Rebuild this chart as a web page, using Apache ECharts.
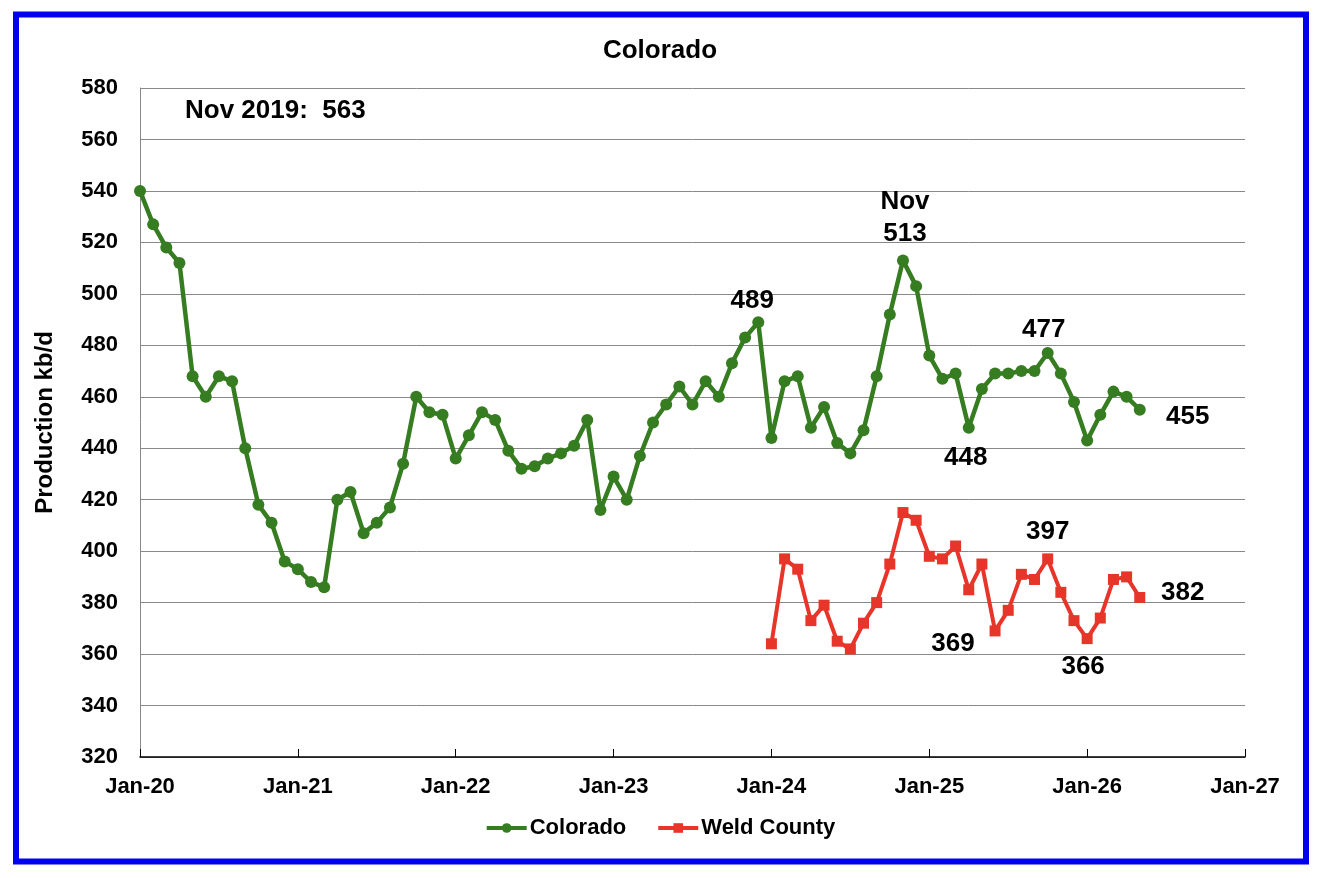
<!DOCTYPE html>
<html>
<head>
<meta charset="utf-8">
<script src="https://cdn.jsdelivr.net/npm/echarts@6/dist/echarts.min.js"></script>
<style>
  html, body { margin: 0; padding: 0; background: #fff; }
  #main { width: 1320px; height: 878px; }
</style>
</head>
<body>
<div id="main"></div>
<script>
var myChart = echarts.init(document.getElementById('main'));

// monthly production, kb/d
var coloradoStart = 2020; // Jan-20
var coloradoValues = [
  540, 527, 518, 512, 468, 460, 468, 466, 440, 418, 411, 396,   // 2020
  393, 388, 386, 420, 423, 407, 411, 417, 434, 460, 454, 453,   // 2021
  436, 445, 454, 451, 439, 432, 433, 436, 438, 441, 451, 416,   // 2022
  429, 420, 437, 450, 457, 464, 457, 466, 460, 473, 483, 489,   // 2023
  444, 466, 468, 448, 456, 442, 438, 447, 468, 492, 513, 503,   // 2024
  476, 467, 469, 448, 463, 469, 469, 470, 470, 477, 469, 458,   // 2025
  443, 453, 462, 460, 455                                       // 2026
];
var weldStart = 2024; // Jan-24
var weldValues = [
  364, 397, 393, 373, 379, 365, 362, 372, 380, 395, 415, 412,   // 2024
  398, 397, 402, 385, 395, 369, 377, 391, 389, 397, 384, 373,   // 2025
  366, 374, 389, 390, 382                                       // 2026
];
var yearTicks = ['Jan-20', 'Jan-21', 'Jan-22', 'Jan-23', 'Jan-24', 'Jan-25', 'Jan-26', 'Jan-27'];

// callouts: [month index from Jan-20, text, offset]
var coloradoNotes = [
  [47, '489', [-6, -21]],
  [58, 'Nov\n513', [2, -43]],
  [69, '477', [-4, -23]],
  [63, '448', [-3, 30]],
  [76, '455', [48, 7]]
];
var weldNotes = [
  [69, '397', [0, -27]],
  [65, '369', [-42, 13]],
  [72, '366', [-4, 28]],
  [76, '382', [43, -5]]
];

function toPoints(startYear, values) {
  var off = (startYear - 2020) * 12;
  return values.map(function (v, i) { return [off + i, v]; });
}
function toMarks(notes, startYear, values) {
  var off = (startYear - 2020) * 12;
  return notes.map(function (n) {
    return {
      coord: [n[0], values[n[0] - off]],
      label: { formatter: n[1], offset: n[2] }
    };
  });
}

var noteLabel = {
  show: true,
  color: '#000',
  fontSize: 26,
  fontWeight: 'bold',
  fontFamily: 'Liberation Sans',
  lineHeight: 32
};

var option = {
  animation: false,
  textStyle: { fontFamily: 'Liberation Sans' },
  title: {
    text: 'Colorado',
    left: 'center',
    top: 33,
    textStyle: { fontSize: 26, fontWeight: 'bold', color: '#000', fontFamily: 'Liberation Sans' }
  },
  grid: { left: 140, right: 75, top: 88, bottom: 121 },
  legend: {
    bottom: 34,
    left: 'center',
    itemWidth: 40,
    itemHeight: 12,
    itemGap: 30,
    lineStyle: { width: 4 },
    textStyle: { fontSize: 22, fontWeight: 'bold', color: '#000', fontFamily: 'Liberation Sans', padding: [0, 0, 0, -2] },
    data: ['Colorado', 'Weld County']
  },
  graphic: [
    {
      type: 'rect',
      shape: { x: 16, y: 14.5, width: 1290, height: 847 },
      style: { fill: 'none', stroke: '#0000ee', lineWidth: 6 },
      silent: true
    },
    {
      type: 'text',
      left: 185,
      top: 98,
      style: { text: 'Nov 2019:  563', fontSize: 26, fontWeight: 'bold', fill: '#000', fontFamily: 'Liberation Sans' }
    }
  ],
  xAxis: {
    type: 'value',
    min: 0,
    max: 84,
    interval: 12,
    axisLine: { lineStyle: { color: '#000', width: 1.5 } },
    axisTick: { show: true, inside: true, length: 8, lineStyle: { color: '#000' } },
    splitLine: { show: false },
    axisLabel: {
      margin: 19,
      color: '#000',
      fontSize: 22,
      fontWeight: 'bold',
      formatter: function (v) { return yearTicks[v / 12]; }
    }
  },
  yAxis: {
    type: 'value',
    min: 320,
    max: 580,
    interval: 20,
    name: 'Production kb/d',
    nameLocation: 'middle',
    nameGap: 83,
    nameTextStyle: { fontSize: 24, fontWeight: 'bold', color: '#000' },
    axisLine: { show: true, lineStyle: { color: '#888' } },
    axisTick: { show: false },
    splitLine: { lineStyle: { color: '#888', width: 1 } },
    axisLabel: { margin: 22, color: '#000', fontSize: 22, fontWeight: 'bold' }
  },
  series: [
    {
      name: 'Colorado',
      type: 'line',
      data: toPoints(coloradoStart, coloradoValues),
      symbol: 'circle',
      symbolSize: 12,
      color: '#367c21',
      lineStyle: { width: 4.5, color: '#367c21' },
      itemStyle: { color: '#367c21' },
      markPoint: {
        symbol: 'circle',
        symbolSize: 0,
        label: noteLabel,
        data: toMarks(coloradoNotes, coloradoStart, coloradoValues)
      }
    },
    {
      name: 'Weld County',
      type: 'line',
      data: toPoints(weldStart, weldValues),
      symbol: 'rect',
      symbolSize: 11,
      color: '#e8352a',
      lineStyle: { width: 4, color: '#e8352a' },
      itemStyle: { color: '#e8352a' },
      markPoint: {
        symbol: 'circle',
        symbolSize: 0,
        label: noteLabel,
        data: toMarks(weldNotes, weldStart, weldValues)
      }
    }
  ]
};

myChart.setOption(option);
</script>
</body>
</html>
